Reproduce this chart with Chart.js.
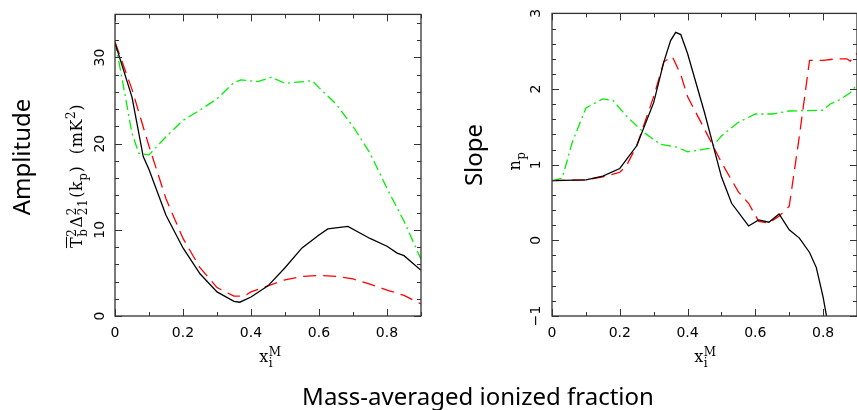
<!DOCTYPE html>
<html>
<head>
<meta charset="utf-8">
<script src="https://cdn.jsdelivr.net/npm/chart.js@4/dist/chart.umd.min.js"></script>
<style>
  html, body { margin: 0; padding: 0; background: #fff; }
  body { width: 857px; height: 410px; position: relative; overflow: hidden; }
  canvas { position: absolute; top: 0; }
  .lbl { position: absolute; white-space: nowrap; color: #000; transform: translate(-50%, -50%); line-height: 1; }
  .rot { transform: translate(-50%, -50%) rotate(-90deg); }
  .big { font-family: "Noto Sans", "Open Sans", sans-serif; font-size: 24px; }
  .math { font-family: "DejaVu Serif", "Liberation Serif", serif; font-size: 16px; letter-spacing: 0.6px; }
  .ss { display: inline-flex; flex-direction: column; font-size: 12px; line-height: 11px; vertical-align: 6px; margin-right: 1px; }
  .sb { font-size: 12px; vertical-align: -5px; }
  .sp { font-size: 12px; vertical-align: 7px; }
  .ov { text-decoration: overline; }
</style>
</head>
<body>
<canvas id="c1" width="440" height="410" style="left:0px;width:440px;height:410px"></canvas>
<canvas id="c2" width="418" height="410" style="left:440px;width:418px;height:410px"></canvas>

<div class="lbl rot big" style="left:21px;top:157px">Amplitude</div>
<div class="lbl rot math" style="left:77px;top:176px"><span class="ov">T</span><span class="ss"><span>2</span><span>b</span></span>Δ<span class="ss"><span>2</span><span>21</span></span>(k<span class="sb">p</span>)&nbsp;&nbsp;(mK<span class="sp">2</span>)</div>
<div class="lbl math" style="left:271px;top:358px">x<span class="ss"><span>M</span><span>i</span></span></div>

<div class="lbl rot big" style="left:473px;top:155px">Slope</div>
<div class="lbl rot math" style="left:517px;top:161px">n<span class="sb">p</span></div>
<div class="lbl math" style="left:706px;top:358px">x<span class="ss"><span>M</span><span>i</span></span></div>

<div class="lbl big" style="left:478px;top:396px">Mass-averaged ionized fraction</div>

<script>
// ---------------- Data: Amplitude panel ----------------
const ampBlackX = [0, 0.05, 0.083, 0.1, 0.15, 0.2, 0.25, 0.3, 0.35, 0.367, 0.4, 0.45, 0.5, 0.55, 0.6, 0.626, 0.685, 0.75, 0.8, 0.83, 0.85, 0.9];
const ampBlackY = [31.7, 25.4, 18.5, 17.0, 11.7, 7.9, 4.9, 2.8, 1.7, 1.6, 2.2, 3.5, 5.6, 7.9, 9.4, 10.1, 10.4, 9.0, 8.1, 7.3, 7.0, 5.3];

const ampRedX = [0, 0.05, 0.1, 0.15, 0.2, 0.25, 0.3, 0.35, 0.38, 0.4, 0.45, 0.5, 0.55, 0.6, 0.65, 0.7, 0.75, 0.8, 0.85, 0.9];
const ampRedY = [31.8, 26.3, 19.7, 13.6, 9.0, 5.6, 3.3, 2.3, 2.3, 2.8, 3.5, 4.2, 4.6, 4.7, 4.6, 4.3, 3.7, 3.0, 2.4, 1.4];

const ampGreenX = [0, 0.02, 0.05, 0.07, 0.1, 0.15, 0.2, 0.25, 0.3, 0.35, 0.37, 0.42, 0.46, 0.5, 0.58, 0.6, 0.65, 0.7, 0.75, 0.8, 0.85, 0.9];
const ampGreenY = [31.9, 27.7, 21.2, 18.9, 18.7, 20.8, 22.7, 23.9, 25.2, 27.1, 27.4, 27.2, 27.7, 27.0, 27.3, 26.5, 24.6, 22.0, 18.9, 14.8, 11.0, 6.6];

// ---------------- Data: Slope panel ----------------
const slopeBlackX = [0, 0.1, 0.15, 0.2, 0.25, 0.3, 0.33, 0.35, 0.365, 0.38, 0.4, 0.45, 0.5, 0.53, 0.58, 0.61, 0.64, 0.67, 0.7, 0.73, 0.76, 0.78, 0.8, 0.81, 0.83];
const slopeBlackY = [0.79, 0.80, 0.85, 0.95, 1.25, 1.82, 2.36, 2.64, 2.75, 2.72, 2.47, 1.69, 0.84, 0.49, 0.19, 0.27, 0.24, 0.35, 0.14, 0.03, -0.16, -0.36, -0.75, -1.0, -1.6];

const slopeRedX = [0, 0.1, 0.15, 0.2, 0.22, 0.25, 0.3, 0.33, 0.355, 0.38, 0.4, 0.45, 0.5, 0.55, 0.58, 0.61, 0.64, 0.67, 0.7, 0.73, 0.76, 0.8, 0.84, 0.87, 0.88, 0.9];
const slopeRedY = [0.79, 0.80, 0.84, 0.90, 0.99, 1.25, 1.90, 2.36, 2.43, 2.19, 1.90, 1.47, 1.03, 0.64, 0.49, 0.25, 0.23, 0.32, 0.45, 1.38, 2.38, 2.38, 2.40, 2.40, 2.37, 2.47];

const slopeGreenX = [0, 0.03, 0.06, 0.1, 0.15, 0.18, 0.22, 0.27, 0.32, 0.37, 0.4, 0.47, 0.5, 0.55, 0.6, 0.65, 0.7, 0.8, 0.82, 0.85, 0.88, 0.9];
const slopeGreenY = [0.79, 0.82, 1.30, 1.75, 1.87, 1.85, 1.64, 1.43, 1.27, 1.23, 1.17, 1.22, 1.38, 1.56, 1.67, 1.67, 1.71, 1.72, 1.80, 1.86, 1.95, 2.06];

// ---------------- Tick settings ----------------
const xTickStep = 0.2;
const xMinorStep = 0.1;
const ampTickStep = 10;
const ampMinorStep = 2;
const slopeTickStep = 1;
const slopeMinorStep = 0.2;

function pts(xs, ys) { return xs.map((x, i) => ({ x: x, y: ys[i] })); }

const tickFont = { family: '"DejaVu Sans", sans-serif', size: 14 };

// Frame + inward tick marks on all four sides, positioned via the chart's scales
const framePlugin = {
  id: 'frame',
  afterDatasetsDraw(chart, args, opts) {
    const { ctx, chartArea: a, scales: { x, y } } = chart;
    ctx.save();
    ctx.strokeStyle = '#333';
    ctx.lineWidth = 1.3;
    ctx.strokeRect(a.left, a.top, a.right - a.left, a.bottom - a.top);
    ctx.lineWidth = 1;
    const eps = 1e-9;
    const drawX = (step, len) => {
      for (let v = x.min; v <= x.max + eps; v += step) {
        const px = Math.round(x.getPixelForValue(v)) + 0.5;
        ctx.beginPath();
        ctx.moveTo(px, a.bottom); ctx.lineTo(px, a.bottom - len);
        ctx.moveTo(px, a.top); ctx.lineTo(px, a.top + len);
        ctx.stroke();
      }
    };
    const drawY = (step, len) => {
      const start = Math.ceil(y.min / step - eps) * step;
      for (let v = start; v <= y.max + eps; v += step) {
        const py = Math.round(y.getPixelForValue(v)) + 0.5;
        ctx.beginPath();
        ctx.moveTo(a.left, py); ctx.lineTo(a.left + len, py);
        ctx.moveTo(a.right, py); ctx.lineTo(a.right - len, py);
        ctx.stroke();
      }
    };
    drawX(opts.xMinor, 4); drawX(opts.xMajor, 7);
    drawY(opts.yMinor, 4); drawY(opts.yMajor, 7);
    ctx.restore();
  }
};

function lineDs(data, color, dash, width) {
  return { data: data, borderColor: color, borderWidth: width, borderDash: dash, pointRadius: 0, tension: 0, fill: false };
}

function makeChart(id, datasets, yMin, yMax, yStep, yMinor, yWidth, yPad, padRight) {
  return new Chart(document.getElementById(id), {
    type: 'line',
    data: { datasets: datasets },
    options: {
      responsive: false,
      animation: false,
      plugins: { legend: { display: false }, tooltip: { enabled: false }, frame: { xMajor: xTickStep, xMinor: xMinorStep, yMajor: yStep, yMinor: yMinor } },
      layout: { padding: { left: 0, right: padRight, top: 9, bottom: 0 } },
      scales: {
        x: {
          type: 'linear', min: 0, max: 0.9,
          grid: { display: false, drawTicks: false },
          border: { display: false },
          ticks: { stepSize: xTickStep, includeBounds: false, color: '#000', font: tickFont, padding: 9, maxRotation: 0,
                   callback: v => (Math.abs(v) < 1e-9 ? '0' : (Math.round(v * 10) / 10).toString()) },
          afterFit: s => { s.height = 94; }
        },
        y: {
          type: 'linear', min: yMin, max: yMax,
          grid: { display: false, drawTicks: false },
          border: { display: false },
          ticks: { stepSize: yStep, includeBounds: false, color: '#000', font: tickFont, padding: yPad,
                   minRotation: 90, maxRotation: 90, crossAlign: 'center',
                   callback: v => String(Math.round(v)).replace('-', '\u2212') },
          afterFit: s => { s.width = yWidth; }
        }
      }
    },
    plugins: [framePlugin]
  });
}

makeChart('c1', [
  lineDs(pts(ampBlackX, ampBlackY), '#000000', [], 1.3),
  lineDs(pts(ampRedX, ampRedY), '#ff0000', [13, 7], 1.3),
  lineDs(pts(ampGreenX, ampGreenY), '#00f000', [10, 4, 2, 4], 1.3)
], 0, 35, ampTickStep, ampMinorStep, 115, 6, 19);

makeChart('c2', [
  lineDs(pts(slopeBlackX, slopeBlackY), '#000000', [], 1.3),
  lineDs(pts(slopeRedX, slopeRedY), '#ff0000', [13, 7], 1.3),
  lineDs(pts(slopeGreenX, slopeGreenY), '#00f000', [10, 4, 2, 4], 1.3)
], -1, 3, slopeTickStep, slopeMinorStep, 112, 5, 1);
</script>
</body>
</html>
